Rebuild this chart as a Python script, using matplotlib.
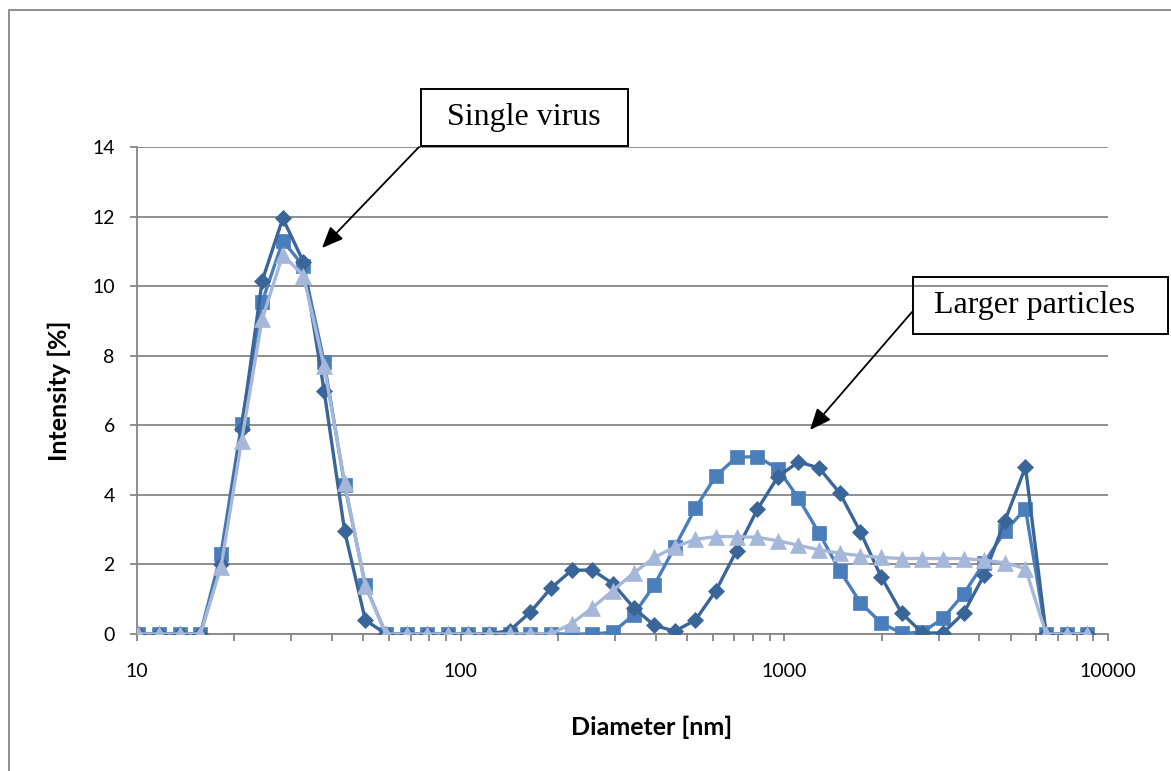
import matplotlib
matplotlib.use("Agg")
from matplotlib import pyplot as plt
from matplotlib.patches import Rectangle
from matplotlib.ticker import LogLocator, FixedLocator, FixedFormatter, NullFormatter

# size bins (nm) and intensity of the three measurements
diameters = [10.1, 11.7, 13.54, 15.69, 18.17, 21.04, 24.36, 28.21, 32.67, 37.84,
             43.82, 50.75, 58.77, 68.06, 78.82, 91.28, 105.7, 122.4, 141.8, 164.2,
             190.1, 220.2, 255.0, 295.3, 342.0, 396.1, 458.7, 531.2, 615.1, 712.4,
             825.0, 955.4, 1106, 1281, 1484, 1718, 1990, 2305, 2669, 3091,
             3580, 4145, 4801, 5560, 6439, 7456, 8635]

run_diamond = [0, 0, 0, 0, 2.0, 5.9, 10.15, 11.95, 10.7, 7.0,
               2.95, 0.4, 0, 0, 0, 0, 0, 0, 0.1, 0.63,
               1.32, 1.83, 1.84, 1.45, 0.76, 0.25, 0.08, 0.4, 1.25, 2.4,
               3.58, 4.52, 4.95, 4.77, 4.05, 2.93, 1.65, 0.6, 0.03, 0.03,
               0.6, 1.7, 3.25, 4.8, 0, 0, 0]

run_square = [0, 0, 0, 0, 2.3, 6.05, 9.55, 11.3, 10.58, 7.83,
              4.28, 1.4, 0, 0, 0, 0, 0, 0, 0, 0,
              0, 0, 0, 0.05, 0.55, 1.4, 2.5, 3.62, 4.55, 5.08,
              5.1, 4.75, 3.9, 2.9, 1.82, 0.9, 0.32, 0.02, 0.05, 0.45,
              1.15, 2.05, 2.95, 3.6, 0, 0, 0]

run_triangle = [0, 0, 0, 0, 1.93, 5.55, 9.05, 10.9, 10.3, 7.7,
                4.35, 1.38, 0, 0, 0, 0, 0, 0, 0, 0,
                0, 0.3, 0.75, 1.25, 1.75, 2.2, 2.5, 2.72, 2.8, 2.8,
                2.78, 2.68, 2.55, 2.42, 2.32, 2.25, 2.2, 2.17, 2.17, 2.17,
                2.17, 2.12, 2.05, 1.88, 0, 0, 0]

x_ticks = [10, 100, 1000, 10000]
x_labels = ["10", "100", "1000", "10000"]
y_ticks = [0, 2, 4, 6, 8, 10, 12, 14]

W, H = 1171, 771
fig = plt.figure(figsize=(W / 100, H / 100), dpi=100)
ax = fig.add_axes([137 / W, 1 - 634 / H, (1108 - 137) / W, (634 - 147) / H])

grey = "#868686"
lw = 2.4

ax.plot(diameters, run_square, color="#4A7EBB", lw=lw, marker="s", ms=10.5,
        mec="#4A7EBB", mew=0.5, zorder=3)
ax.plot(diameters, run_diamond, color="#3A6598", lw=lw, marker="D", ms=8.4,
        mec="#3A6598", mew=0.5, zorder=4)
ax.plot(diameters, run_triangle, color="#A6B8D9", lw=lw, marker="^", ms=11,
        mec="#A6B8D9", mew=0.5, zorder=5)

ax.set_xscale("log")
ax.set_xlim(10, 10000)
ax.set_ylim(0, 14)
ax.xaxis.set_major_locator(FixedLocator(x_ticks))
ax.xaxis.set_major_formatter(FixedFormatter(x_labels))
ax.xaxis.set_minor_locator(LogLocator(base=10, subs=range(2, 10)))
ax.xaxis.set_minor_formatter(NullFormatter())
ax.set_yticks(y_ticks)
ax.set_yticklabels([str(v) for v in y_ticks])

ax.grid(axis="y", color=grey, lw=1.3, zorder=0)
ax.set_axisbelow(True)
for side in ["top", "right"]:
    ax.spines[side].set_visible(False)
for side in ["left", "bottom"]:
    ax.spines[side].set_color(grey)
    ax.spines[side].set_linewidth(1.3)

ax.tick_params(axis="x", which="major", direction="out", length=5, width=1.3,
               color=grey, pad=16, labelsize=14)
ax.tick_params(axis="x", which="minor", direction="out", length=5, width=1.3,
               color=grey)
ax.tick_params(axis="y", direction="out", length=5, width=1.3, color=grey,
               pad=11, labelsize=14)
for lab in ax.get_xticklabels() + ax.get_yticklabels():
    lab.set_fontfamily("Lato")

ax.set_xlabel("Diameter [nm]", fontfamily="Lato", fontweight="bold", fontsize=18)
ax.set_ylabel("Intensity [%]", fontfamily="Lato", fontweight="bold", fontsize=18)
ax.xaxis.set_label_coords((652 - 137) / 971, -(716 - 634) / 487)
ax.yaxis.set_label_coords(-(137 - 71) / 971, 0.5)

# callout boxes with arrows
def px(x, y):
    return (x / W, 1 - y / H)

serif = "Liberation Serif"
fig.text(*px(524, 118), "Single virus", family=serif, fontsize=23,
         ha="center", va="center")
fig.patches.append(Rectangle(px(421, 146), 207 / W, 57 / H, transform=fig.transFigure,
                             fill=False, ec="black", lw=1.4))
fig.text(*px(1034, 306), "Larger particles", family=serif, fontsize=23,
         ha="center", va="center")
fig.patches.append(Rectangle(px(913, 334), 255 / W, 57 / H, transform=fig.transFigure,
                             fill=False, ec="black", lw=1.4))

arrow = dict(arrowstyle="-|>,head_length=1.3,head_width=0.55", color="black",
             lw=1.3, shrinkA=0, shrinkB=0)
ax.annotate("", xy=px(322, 248), xytext=px(419, 147), xycoords="figure fraction",
            textcoords="figure fraction", arrowprops=arrow)
ax.annotate("", xy=px(810, 430), xytext=px(912, 312), xycoords="figure fraction",
            textcoords="figure fraction", arrowprops=arrow)

# outer chart border
fig.patches.append(Rectangle(px(9, 790), 1200 / W, 780 / H, transform=fig.transFigure,
                             fill=False, ec=grey, lw=1.3))

fig.savefig("out.png", dpi=100)
